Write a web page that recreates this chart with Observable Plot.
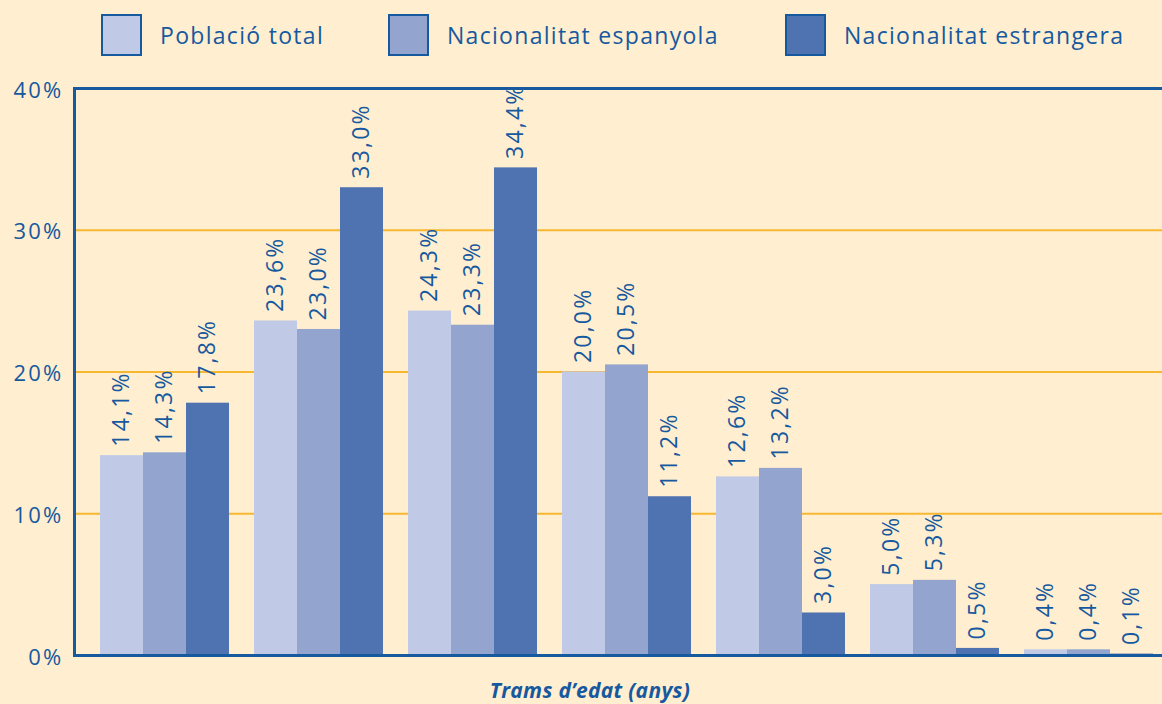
<!DOCTYPE html>
<html>
<head>
<meta charset="utf-8">
<script src="https://cdn.jsdelivr.net/npm/d3@7"></script>
<script src="https://cdn.jsdelivr.net/npm/@observablehq/plot@0.6"></script>
<style>
  html, body { margin: 0; padding: 0; background: #ffeecf; }
  body { width: 1162px; height: 704px; overflow: hidden; font-family: "Open Sans", sans-serif; color: #16599f; }
  #legend { position: relative; height: 70px; }
  .item { position: absolute; top: 14px; display: flex; align-items: center; }
  .sw { width: 37px; height: 38px; border: 2.5px solid #16599f; margin-right: 18px; }
  .lab { font-size: 23px; letter-spacing: 1.3px; }
  #chart { position: relative; width: 1162px; height: 602px; }
  #chart svg { position: absolute; left: 0; top: 0; display: block; letter-spacing: 2.2px; }
  #xlabel { height: 32px; font-size: 21px; font-weight: bold; font-style: italic; text-align: center; padding-left: 18px; line-height: 36px; letter-spacing: 0.3px; }
</style>
</head>
<body>
<div id="legend"></div>
<div id="chart"></div>
<div id="xlabel">Trams d’edat (anys)</div>
<script>
const groups = ["Tram 1", "Tram 2", "Tram 3", "Tram 4", "Tram 5", "Tram 6", "Tram 7"];
const series = ["Població total", "Nacionalitat espanyola", "Nacionalitat estrangera"];
const colors = ["#c0cae6", "#93a5ce", "#4f72b0"];
const poblacioTotal = [14.1, 23.6, 24.3, 20.0, 12.6, 5.0, 0.4];
const nacEspanyola = [14.3, 23.0, 23.3, 20.5, 13.2, 5.3, 0.4];
const nacEstrangera = [17.8, 33.0, 34.4, 11.2, 3.0, 0.5, 0.1];
const yTicks = [0, 10, 20, 30, 40];
const gridTicks = [10, 20, 30];

const seriesValues = [poblacioTotal, nacEspanyola, nacEstrangera];
const data = [];
groups.forEach((g, i) => {
  series.forEach((s, j) => data.push({group: g, serie: s, value: seriesValues[j][i]}));
});
const fmt = v => v.toFixed(1).replace(".", ",") + "%";
const blue = "#16599f";

// legend
const legendLefts = [101, 388, 785];
const legend = document.getElementById("legend");
series.forEach((s, j) => {
  const it = document.createElement("div");
  it.className = "item";
  it.style.left = legendLefts[j] + "px";
  it.innerHTML = `<div class="sw" style="background:${colors[j]}"></div><div class="lab">${s}</div>`;
  legend.appendChild(it);
});

const common = {
  width: 1162,
  height: 602,
  marginLeft: 74,
  marginRight: 0,
  marginTop: 18,
  marginBottom: 17,
  style: {background: "transparent", fontFamily: "Open Sans, sans-serif", color: blue, overflow: "visible"},
  y: {domain: [0, 40], axis: null}
};

// background layer: grid, frame lines, y axis (spans full frame)
const base = Plot.plot({
  ...common,
  marks: [
    Plot.ruleY(gridTicks, {stroke: "#f7b731", strokeWidth: 2}),
    Plot.ruleY([0, 40], {stroke: blue, strokeWidth: 3}),
    Plot.frame({anchor: "left", stroke: blue, strokeWidth: 3}),
    Plot.axisY({ticks: yTicks, tickFormat: d => d + "%", tickSize: 0, tickPadding: 11, dy: 2, fontSize: 22, fill: blue, label: null})
  ]
});

// foreground layer: grouped bars and value labels
const bars = Plot.plot({
  ...common,
  fx: {domain: groups, paddingInner: 0.162, paddingOuter: 0.109, align: 0.744, axis: null, label: null},
  x: {domain: series, padding: 0, axis: null},
  color: {domain: series, range: colors},
  marks: [
    Plot.barY(data, {fx: "group", x: "serie", y: "value", fill: "serie"}),
    Plot.ruleY([0], {stroke: blue, strokeWidth: 3}),
    Plot.text(data, {fx: "group", x: "serie", y: "value", text: d => fmt(d.value), rotate: -90, textAnchor: "start", dy: -9, fontSize: 23, fill: blue})
  ]
});
const c = document.getElementById("chart");
c.appendChild(base);
c.appendChild(bars);
</script>
</body>
</html>
